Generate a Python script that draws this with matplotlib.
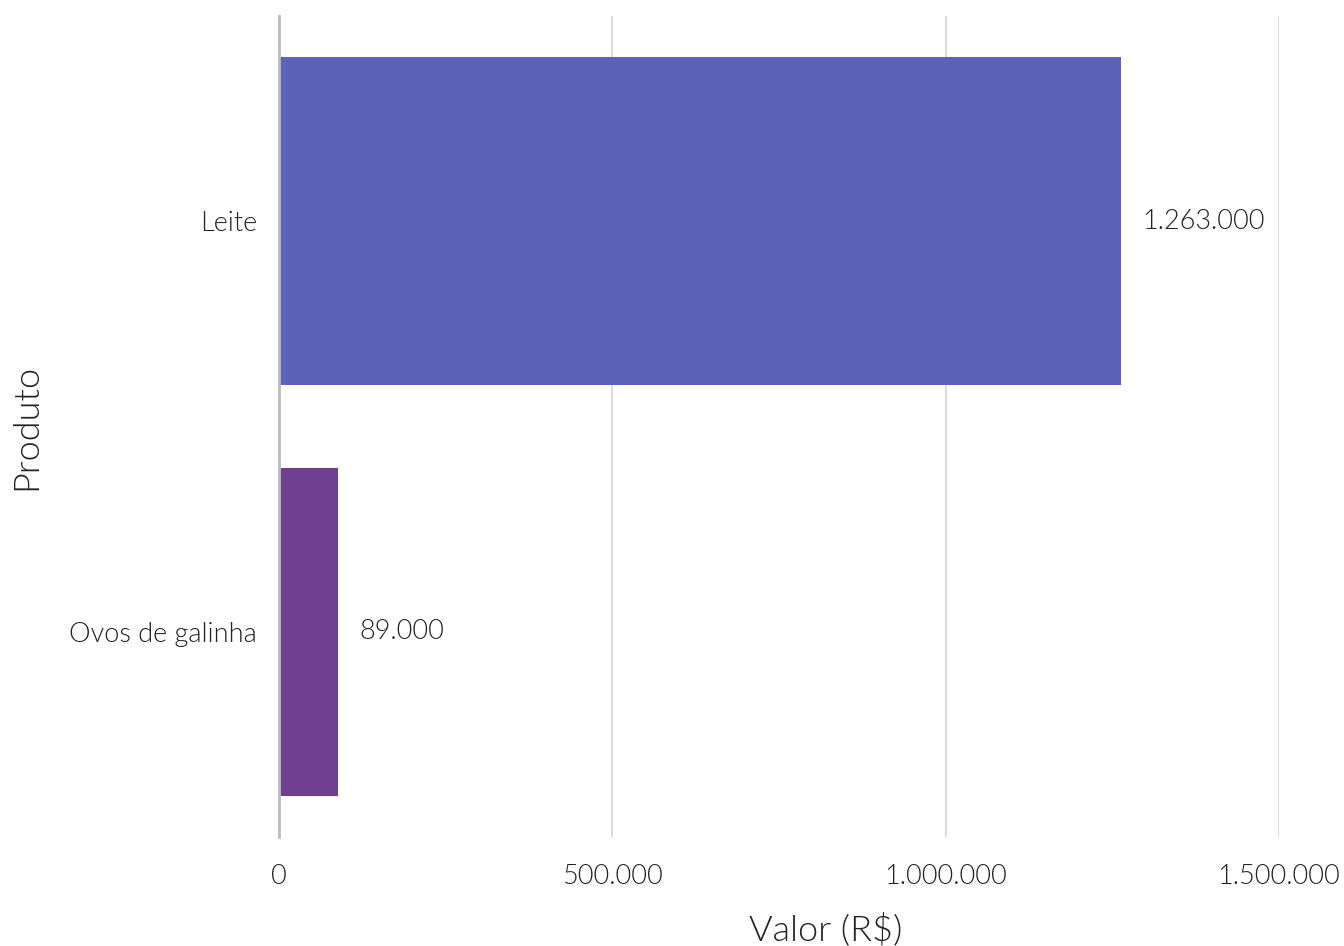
import matplotlib.pyplot as plt
from matplotlib.ticker import FuncFormatter

produtos = ['Leite', 'Ovos de galinha']
valores = [1263000, 89000]
cores = ['#5c63b7', '#6f3f91']
xticks = [0, 500000, 1000000, 1500000]


def br(v, pos=None):
    return f'{int(round(v)):,}'.replace(',', '.')


plt.rcParams['font.family'] = ['Lato', 'DejaVu Sans']
plt.rcParams['font.weight'] = 300
plt.rcParams['axes.labelweight'] = 300

fig = plt.figure(figsize=(13.44, 9.46), dpi=100)
ax = fig.add_axes([0.2076, 0.1157, 0.744, 0.8669])

ypos = list(range(len(produtos)))
ax.barh(ypos, valores, height=0.8, color=cores, zorder=2)
for y, v in zip(ypos, valores):
    ax.annotate(br(v), (v, y), xytext=(15, 0), textcoords='offset points',
                va='center', ha='left', fontsize=19.5, color='#222222', fontweight=300)

ax.set_ylim(1.5, -0.5)
ax.set_xlim(0, 1500000)
ax.set_xticks(xticks)
ax.xaxis.set_major_formatter(FuncFormatter(br))
ax.set_yticks(ypos)
ax.set_yticklabels(produtos)
ax.tick_params(axis='both', length=0, labelsize=19.5, labelcolor='#222222')
ax.tick_params(axis='x', pad=20)
ax.tick_params(axis='y', pad=16)
ax.grid(axis='x', color='#dddddd', linewidth=1.5, zorder=0)
for s in ['top', 'right', 'bottom']:
    ax.spines[s].set_visible(False)
ax.spines['left'].set_color('#bbbbbb')
ax.spines['left'].set_linewidth(2)
ax.spines['left'].set_zorder(3)

ax.set_xlabel('Valor (R$)', fontsize=26, color='#222222')
ax.set_ylabel('Produto', fontsize=26, color='#222222')
ax.xaxis.set_label_coords(0.547, -0.093)
ax.yaxis.set_label_coords(-0.237, 0.5)

fig.savefig('out.png', dpi=100)
